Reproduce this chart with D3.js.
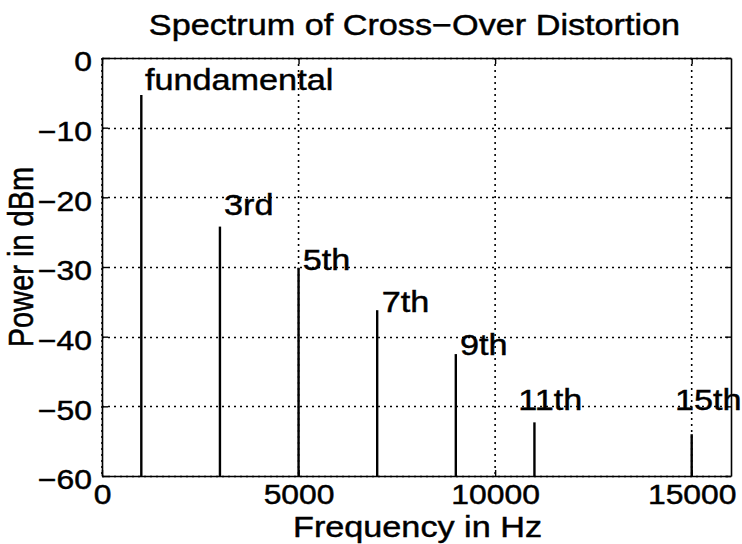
<!DOCTYPE html>
<html>
<head>
<meta charset="utf-8">
<script src="https://cdn.jsdelivr.net/npm/d3@7"></script>
<style>
  body { margin: 0; background: #fff; }
  text { font-family: "Liberation Sans", Arial, Helvetica, sans-serif; fill: #000; stroke: #000; stroke-width: 0.45px; }
</style>
</head>
<body>
<div id="chart"></div>
<script>
// harmonic peaks
const harmonics = ["fundamental", "3rd", "5th", "7th", "9th", "11th", "15th"];
const freqs = [1000, 3000, 5000, 7000, 9000, 11000, 15000];
const powers = [-5.3, -24.2, -30.1, -36.2, -42.5, -52.3, -54.0];
// where each annotation sits (Hz, dBm of its baseline)
const labelFreqs = [1094, 3104, 5106, 7115, 9107, 10590, 14577];
const labelPowers = [-4.6, -22.5, -30.5, -36.4, -42.6, -50.5, -50.5];
const xTicks = [0, 5000, 10000, 15000];
const yTicks = [0, -10, -20, -30, -40, -50, -60];

const SX = 1.18; // the scan is stretched sideways, so text is too
const margin = {top: 58, right: 11, bottom: 68, left: 102},
  width = 742 - margin.left - margin.right,
  height = 544 - margin.top - margin.bottom;

const svg = d3.select("#chart")
  .append("svg")
    .attr("width", 742)
    .attr("height", 544)
  .append("g")
    .attr("transform", "translate(" + margin.left + "," + margin.top + ")");

const x = d3.scaleLinear().domain([0, 16000]).range([0, width]);
const y = d3.scaleLinear().domain([-60, 0]).range([height, 0]);

// dotted grid
svg.selectAll(".vgrid")
  .data(xTicks)
  .join("line")
    .attr("class", "vgrid")
    .attr("x1", d => x(d)).attr("x2", d => x(d))
    .attr("y1", 0).attr("y2", height);
svg.selectAll(".hgrid")
  .data(yTicks)
  .join("line")
    .attr("class", "hgrid")
    .attr("x1", 0).attr("x2", width)
    .attr("y1", d => Math.round(y(d)) + 0.5).attr("y2", d => Math.round(y(d)) + 0.5);
svg.selectAll(".vgrid, .hgrid")
  .attr("stroke", "#000")
  .attr("stroke-width", 1.6)
  .attr("stroke-dasharray", "2,4");

// spikes
svg.selectAll(".spike")
  .data(freqs)
  .join("line")
    .attr("class", "spike")
    .attr("x1", d => x(d)).attr("x2", d => x(d))
    .attr("y1", y(-60))
    .attr("y2", (d, i) => y(powers[i]))
    .attr("stroke", "#000")
    .attr("stroke-width", 2.4);

// axes with inward ticks on every side
const fmt = d3.format("d");
const bottom = svg.append("g")
  .attr("transform", "translate(0," + height + ")")
  .call(d3.axisBottom(x).tickValues(xTicks).tickSizeInner(-6).tickSizeOuter(0).tickFormat(fmt));
bottom.selectAll("text")
  .attr("y", 28).attr("dy", 0)
  .style("font-size", "27px")
  .attr("transform", "scale(" + SX + ",1)");

const left = svg.append("g")
  .call(d3.axisLeft(y).tickValues(yTicks).tickSizeInner(-6).tickSizeOuter(0).tickFormat(fmt));
left.selectAll("text")
  .attr("x", -8.5).attr("dy", "0.48em")
  .style("font-size", "27px")
  .attr("transform", "scale(" + SX + ",1)");

svg.append("g")
  .call(d3.axisTop(x).tickValues(xTicks).tickSizeInner(-6).tickSizeOuter(0).tickFormat(""));
svg.append("g")
  .attr("transform", "translate(" + width + ",0)")
  .call(d3.axisRight(y).tickValues(yTicks).tickSizeInner(-6).tickSizeOuter(0).tickFormat(""));

svg.selectAll(".domain").attr("stroke", "#000").attr("stroke-width", 1.6);
svg.selectAll(".tick line").attr("stroke", "#000").attr("stroke-width", 1.4);

// harmonic labels
svg.selectAll(".hlabel")
  .data(harmonics)
  .join("text")
    .attr("class", "hlabel")
    .attr("transform", (d, i) => "translate(" + x(labelFreqs[i]) + "," + y(labelPowers[i]) + ") scale(" + SX + ",1)")
    .style("font-size", "29px")
    .text(d => d);

// title and axis titles
svg.append("text")
  .attr("transform", "translate(" + (width / 2 - 2) + "," + (35 - margin.top) + ") scale(" + SX + ",1)")
  .attr("text-anchor", "middle")
  .style("font-size", "29px")
  .text("Spectrum of Cross\u2212Over Distortion");

svg.append("text")
  .attr("transform", "translate(" + (width / 2 + 1) + "," + (height + 61) + ") scale(" + SX + ",1)")
  .attr("text-anchor", "middle")
  .style("font-size", "29px")
  .text("Frequency in Hz");

svg.append("text")
  .attr("transform", "translate(" + (33 - margin.left) + "," + (257 - margin.top) + ") scale(" + SX + ",1) rotate(-90)")
  .attr("text-anchor", "middle")
  .style("font-size", "29px")
  .text("Power in dBm");
</script>
</body>
</html>
